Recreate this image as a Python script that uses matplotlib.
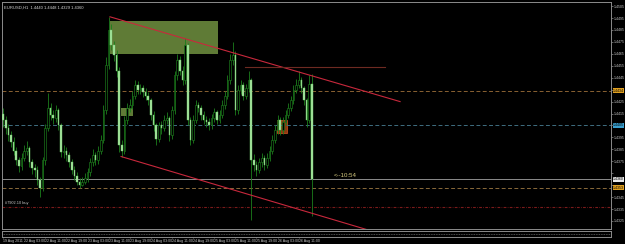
import matplotlib
matplotlib.use("Agg")
import matplotlib.pyplot as plt
import matplotlib.transforms as mtransforms
from matplotlib.patches import Rectangle
import numpy as np

plt.rcParams["font.family"] = ["Liberation Sans", "DejaVu Sans"]

# ---------------- data ----------------
symbol_header = "EURUSD,H1  1.4440 1.4448 1.4329 1.4360"

opens = [1.4415, 1.4410, 1.4403, 1.4397, 1.4391, 1.4384, 1.4376, 1.4371, 1.4378, 1.4384,
         1.4386, 1.4374, 1.4369, 1.4368, 1.4359, 1.4353, 1.4376, 1.4403, 1.4420, 1.4414,
         1.4411, 1.4418, 1.4405, 1.4383, 1.4384, 1.4380, 1.4374, 1.4368, 1.4363, 1.4358,
         1.4355, 1.4358, 1.4361, 1.4366, 1.4374, 1.4380, 1.4376, 1.4384, 1.4393, 1.4418,
         1.4456, 1.4485, 1.4472, 1.4464, 1.4451, 1.4389, 1.4384, 1.4410, 1.4420, 1.4422,
         1.4430, 1.4439, 1.4435, 1.4436, 1.4433, 1.4430, 1.4426, 1.4414, 1.4405, 1.4394,
         1.4405, 1.4403, 1.4410, 1.4411, 1.4397, 1.4418, 1.4447, 1.4460, 1.4451, 1.4443,
         1.4472, 1.4410, 1.4393, 1.4410, 1.4422, 1.4420, 1.4414, 1.4410, 1.4408, 1.4405,
         1.4411, 1.4416, 1.4410, 1.4414, 1.4422, 1.4430, 1.4443, 1.4460, 1.4464, 1.4418,
         1.4435, 1.4439, 1.4430, 1.4436, 1.4443, 1.4376, 1.4372, 1.4368, 1.4374, 1.4378,
         1.4372, 1.4378, 1.4384, 1.4393, 1.4401, 1.4410, 1.4401, 1.4408, 1.4414, 1.4420,
         1.4426, 1.4435, 1.4439, 1.4443, 1.4436, 1.4426, 1.4410, 1.4440]
highs = [1.4420, 1.4413, 1.4406, 1.4400, 1.4395, 1.4387, 1.4379, 1.4382, 1.4389, 1.4392,
         1.4388, 1.4377, 1.4373, 1.4371, 1.4362, 1.4379, 1.4406, 1.4432, 1.4424, 1.4418,
         1.4422, 1.4420, 1.4407, 1.4389, 1.4387, 1.4383, 1.4377, 1.4371, 1.4366, 1.4361,
         1.4362, 1.4365, 1.4369, 1.4378, 1.4385, 1.4383, 1.4388, 1.4397, 1.4422, 1.4462,
         1.4496, 1.4490, 1.4476, 1.4468, 1.4454, 1.4393, 1.4413, 1.4424, 1.4427, 1.4434,
         1.4443, 1.4442, 1.4440, 1.4439, 1.4436, 1.4433, 1.4428, 1.4417, 1.4407, 1.4408,
         1.4409, 1.4414, 1.4416, 1.4413, 1.4421, 1.4451, 1.4465, 1.4463, 1.4455, 1.4478,
         1.4474, 1.4412, 1.4414, 1.4426, 1.4425, 1.4422, 1.4417, 1.4413, 1.4411, 1.4415,
         1.4420, 1.4418, 1.4418, 1.4426, 1.4434, 1.4447, 1.4465, 1.4475, 1.4467, 1.4439,
         1.4443, 1.4441, 1.4440, 1.4451, 1.4445, 1.4381, 1.4375, 1.4378, 1.4382, 1.4380,
         1.4382, 1.4388, 1.4397, 1.4405, 1.4414, 1.4412, 1.4412, 1.4418, 1.4424, 1.4430,
         1.4439, 1.4444, 1.4451, 1.4446, 1.4438, 1.4428, 1.4447, 1.4448]
lows = [1.4404, 1.4398, 1.4392, 1.4387, 1.4380, 1.4372, 1.4366, 1.4368, 1.4375, 1.4380,
        1.4370, 1.4364, 1.4362, 1.4355, 1.4345, 1.4350, 1.4372, 1.4400, 1.4410, 1.4406,
        1.4408, 1.4401, 1.4379, 1.4378, 1.4375, 1.4370, 1.4364, 1.4359, 1.4355, 1.4353,
        1.4354, 1.4356, 1.4358, 1.4363, 1.4371, 1.4372, 1.4373, 1.4381, 1.4390, 1.4415,
        1.4452, 1.4468, 1.4459, 1.4446, 1.4383, 1.4379, 1.4381, 1.4406, 1.4416, 1.4419,
        1.4427, 1.4431, 1.4431, 1.4429, 1.4426, 1.4422, 1.4410, 1.4400, 1.4389, 1.4391,
        1.4398, 1.4400, 1.4406, 1.4392, 1.4394, 1.4415, 1.4443, 1.4447, 1.4439, 1.4440,
        1.4405, 1.4389, 1.4390, 1.4407, 1.4416, 1.4410, 1.4406, 1.4404, 1.4401, 1.4402,
        1.4408, 1.4406, 1.4407, 1.4411, 1.4419, 1.4427, 1.4440, 1.4456, 1.4414, 1.4415,
        1.4431, 1.4426, 1.4427, 1.4433, 1.4326, 1.4367, 1.4363, 1.4365, 1.4370, 1.4368,
        1.4369, 1.4375, 1.4381, 1.4390, 1.4398, 1.4397, 1.4398, 1.4405, 1.4411, 1.4417,
        1.4423, 1.4432, 1.4436, 1.4432, 1.4422, 1.4404, 1.4407, 1.4329]
closes = [1.4410, 1.4403, 1.4397, 1.4391, 1.4384, 1.4376, 1.4371, 1.4378, 1.4384, 1.4386,
          1.4374, 1.4369, 1.4368, 1.4359, 1.4353, 1.4376, 1.4403, 1.4420, 1.4414, 1.4411,
          1.4418, 1.4405, 1.4383, 1.4384, 1.4380, 1.4374, 1.4368, 1.4363, 1.4358, 1.4355,
          1.4358, 1.4361, 1.4366, 1.4374, 1.4380, 1.4376, 1.4384, 1.4393, 1.4418, 1.4456,
          1.4485, 1.4472, 1.4464, 1.4451, 1.4389, 1.4384, 1.4410, 1.4420, 1.4422, 1.4430,
          1.4439, 1.4435, 1.4436, 1.4433, 1.4430, 1.4426, 1.4414, 1.4405, 1.4394, 1.4405,
          1.4403, 1.4410, 1.4411, 1.4397, 1.4418, 1.4447, 1.4460, 1.4451, 1.4443, 1.4472,
          1.4410, 1.4393, 1.4410, 1.4422, 1.4420, 1.4414, 1.4410, 1.4408, 1.4405, 1.4411,
          1.4416, 1.4410, 1.4414, 1.4422, 1.4430, 1.4443, 1.4460, 1.4464, 1.4418, 1.4435,
          1.4439, 1.4430, 1.4436, 1.4443, 1.4376, 1.4372, 1.4368, 1.4374, 1.4378, 1.4372,
          1.4378, 1.4384, 1.4393, 1.4401, 1.4410, 1.4401, 1.4408, 1.4414, 1.4420, 1.4426,
          1.4435, 1.4439, 1.4443, 1.4436, 1.4426, 1.4410, 1.4440, 1.4360]

date_labels = ["19 Aug 2011", "22 Aug 03:00", "22 Aug 11:00", "22 Aug 19:00",
               "23 Aug 03:00", "23 Aug 11:00", "23 Aug 19:00", "24 Aug 03:00",
               "24 Aug 11:00", "24 Aug 19:00", "25 Aug 03:00", "25 Aug 11:00",
               "25 Aug 19:00", "26 Aug 03:00", "26 Aug 11:00"]
date_label_bars = [0, 8, 16, 24, 32, 40, 48, 56, 64, 72, 80, 88, 96, 104, 112]

price_ticks = [1.4325, 1.4335, 1.4345, 1.4355, 1.4365, 1.4375, 1.4385, 1.4395, 1.4405,
               1.4415, 1.4425, 1.4435, 1.4445, 1.4455, 1.4465, 1.4475, 1.4485, 1.4495, 1.4505]

# horizontal levels
level_resist = 1.4434
level_mid = 1.4405
level_bid = 1.4360
level_support = 1.4353
level_order = 1.4337
order_label = "#7902.10 buy"
countdown = "<--10:54"

# trend lines: (bar, price) endpoints
upper_trend = [(40.5, 1.4496), (150.4, 1.4425)]
lower_trend = [(44.7, 1.4379), (137.5, 1.4318)]
flat_line = [(91.7, 1.4454), (144.7, 1.4454)]
# rectangles: (bar0, bar1, price_low, price_high)
zone_big = (40.5, 81.4, 1.44648, 1.44924)
zone_small = (44.7, 49.2, 1.44129, 1.44196)
zone_orange = (103.8, 107.6, 1.43986, 1.44095)

# ---------------- figure ----------------
W, H = 625, 244
fig = plt.figure(figsize=(W / 100, H / 100), dpi=100, facecolor="black")


def fx(px):
    return px / W


def fy(py):
    return 1 - py / H


main_top, main_bot = 2, 229
left_px, right_px = 2, 611
ax = fig.add_axes([fx(left_px), fy(main_bot), fx(right_px - left_px), (main_bot - main_top) / H])
ax.set_facecolor("black")

n = len(closes)
x = np.arange(n)
o = np.array(opens); c = np.array(closes); h = np.array(highs); l = np.array(lows)

ax.set_xlim(-0.4, 230.3)
ax.set_ylim(1.43183, 1.45084)

# objects in background
r = zone_big
ax.add_patch(Rectangle((r[0], r[2]), r[1] - r[0], r[3] - r[2], facecolor="#5f7b36",
                       edgecolor="none", zorder=1))
r = zone_small
ax.add_patch(Rectangle((r[0], r[2]), r[1] - r[0], r[3] - r[2], facecolor="#5f7b36",
                       edgecolor="none", zorder=1))
r = zone_orange
ax.add_patch(Rectangle((r[0], r[2]), r[1] - r[0], r[3] - r[2], facecolor="#8a3a12",
                       edgecolor="#c04a1a", linewidth=0.6, zorder=1))

# level lines
ax.axhline(level_resist, color="#8a6232", lw=0.7, dashes=(4, 2.5), zorder=1)
ax.axhline(level_mid, color="#3f6e80", lw=0.7, dashes=(4, 2.5), zorder=1)
ax.axhline(level_bid, color="#8c8c8c", lw=0.7, zorder=1)
ax.axhline(level_support, color="#8a6a3a", lw=0.7, dashes=(4, 2.5), zorder=1)
ax.axhline(level_order, color="#7a1a1a", lw=0.8, dashes=(2.5, 1.2, 0.6, 1.2), zorder=1)

# candles
wick_color = "#1c7e1c"
ax.vlines(x, l, h, color=wick_color, lw=0.6, zorder=3)
bull = c >= o
bottoms = np.minimum(o, c)
heights = np.maximum(np.abs(c - o), 0.00003)
ax.bar(x[bull], heights[bull], bottom=bottoms[bull], width=0.62, facecolor="black",
       edgecolor=wick_color, linewidth=0.45, zorder=4)
ax.bar(x[~bull], heights[~bull], bottom=bottoms[~bull], width=0.62, facecolor="#a8e6a0",
       edgecolor="#70c86c", linewidth=0.3, zorder=4)

# trend lines
for seg, col in [(upper_trend, "#c8283c"), (lower_trend, "#c8283c"), (flat_line, "#6e2a22")]:
    ax.plot([seg[0][0], seg[1][0]], [seg[0][1], seg[1][1]], color=col, lw=0.8, zorder=5)

# texts
ax.text(0.004, 0.985, symbol_header, transform=ax.transAxes, fontsize=3.0, color="#d8d8d8",
        ha="left", va="top")
ax.text(0.6, level_order + 0.00012, order_label, fontsize=2.8, color="#c8c8c8",
        ha="left", va="bottom", zorder=6)
ax.text(125.3, level_bid + 0.00008, countdown, fontsize=4.4, color="#d8cc80",
        ha="left", va="bottom", zorder=6)

# right price axis (labels hidden under the highlighted level boxes are dropped)
boxes = [(level_resist, "#e0a020"), (level_mid, "#3aa0d0"),
         (level_bid, "#e8e8e8"), (level_support, "#e0a020")]
shown = [p for p in price_ticks if min(abs(p - b[0]) for b in boxes) > 0.00055]
ax.yaxis.tick_right()
ax.set_yticks(price_ticks)
ax.set_yticklabels([f"{p:.4f}" if p in shown else "" for p in price_ticks])
ax.tick_params(axis="y", colors="#8c8c8c", labelcolor="#c8c8c8", labelsize=2.5,
               length=1.5, width=0.5, pad=0.8)
ax.set_xticks([])
for s in ax.spines.values():
    s.set_color("#8c8c8c")
    s.set_linewidth(0.7)

ytrans = mtransforms.blended_transform_factory(ax.transAxes, ax.transData)
for val, bg in boxes:
    ax.text(1.0035, val, f"{val:.4f}", transform=ytrans, fontsize=2.5, color="black",
            ha="left", va="center",
            bbox=dict(facecolor=bg, edgecolor="none", pad=0.25), zorder=7, clip_on=False)

# bottom sub window
sub_top, sub_bot = 231, 237
ax2 = fig.add_axes([fx(left_px), fy(sub_bot), fx(right_px - left_px), (sub_bot - sub_top) / H])
ax2.set_facecolor("black")
ax2.set_xlim(ax.get_xlim())
ax2.set_ylim(0, 1)
ax2.axhline(0.5, color="#6a6a6a", lw=0.6, dashes=(1, 1))
for s in ax2.spines.values():
    s.set_color("#8c8c8c")
    s.set_linewidth(0.7)
ax2.set_yticks([])
ax2.set_xticks(date_label_bars)
ax2.set_xticklabels(date_labels, ha="left")
ax2.tick_params(axis="x", colors="#8c8c8c", labelcolor="#c8c8c8", labelsize=2.6,
                length=1.0, width=0.5, pad=0.3)

fig.savefig("out.png", dpi=100, facecolor="black")
